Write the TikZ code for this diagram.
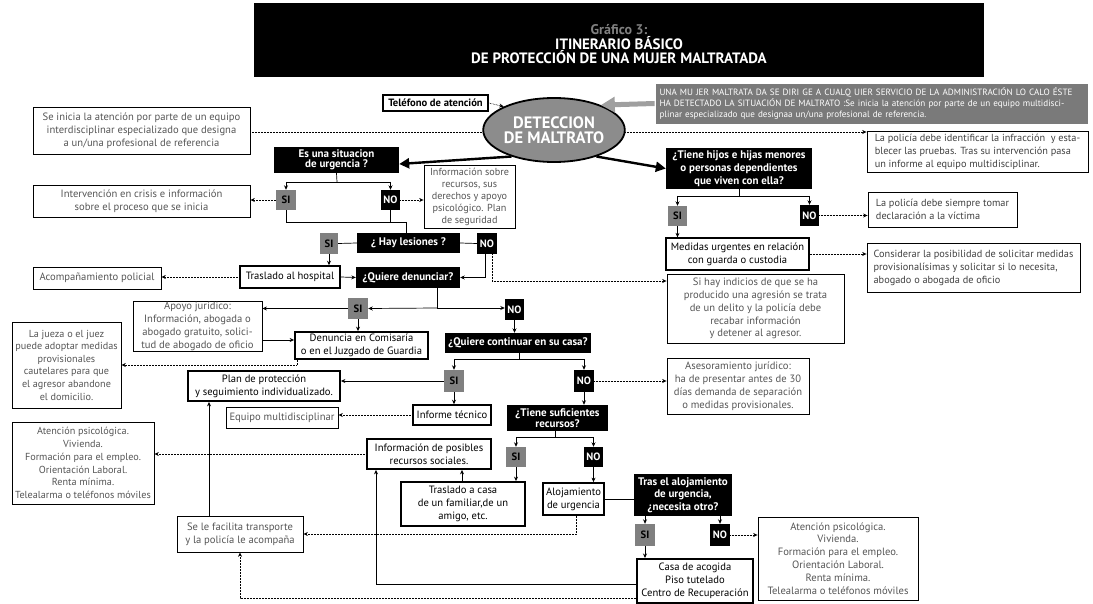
\documentclass[tikz,border=0pt]{standalone}
\usepackage{fontspec}
\setmainfont{PT Sans}
\usetikzlibrary{arrows.meta,calc,shapes.geometric,backgrounds}
\definecolor{tg}{HTML}{555555}
\definecolor{sig}{HTML}{808080}
\definecolor{ellg}{HTML}{8C8C8C}
\definecolor{infog}{HTML}{7A7A7A}
\newcommand\gfont{\fontsize{10.6}{12.9}\selectfont}
\newcommand\qfont{\bfseries\fontsize{11}{10.5}\selectfont}
\newcommand\mybox[7]{\node[#1, minimum width={(#5-#3)*1pt}, minimum height={(#6-#4)*1pt}] (#2) at ({(#3+#5)/2},{(#4+#6)/2}) {#7};}
\begin{document}
\begin{tikzpicture}[x=1pt,y=-1pt,
  gb/.style={draw, line width=0.8pt, inner sep=0pt, align=center, text=tg, font=\gfont},
  gl/.style={gb, align=left, font=\fontsize{10.3}{13}\selectfont},
  tb/.style={draw, line width=1.8pt, inner sep=0pt, align=center, text=black, font=\gfont},
  qb/.style={fill=black, inner sep=0pt, align=center, text=white, font=\qfont},
  sib/.style={fill=sig, inner sep=0pt, text=black, font=\bfseries\gfont},
  nob/.style={fill=black, inner sep=0pt, text=white, font=\bfseries\gfont},
  ar/.style={-{Stealth[length=4.5pt,width=4pt]}, line width=0.7pt},
  dt/.style={dash pattern=on 0.6pt off 0.9pt, line width=0.7pt},
  bigar/.style={line width=2.4pt, -{Triangle[length=10pt,width=10pt]}},
  ln/.style={line width=0.7pt}]
\useasboundingbox (0,0) rectangle (1093,604);
% title
\node[fill=black, minimum width=730pt, minimum height=74pt, inner sep=0pt] (title) at (619,40) {};
\node[anchor=base, text=gray, font=\bfseries\fontsize{14}{14}\selectfont] (t1) at (619,34.5) {Gráfico 3:};
\node[anchor=base, text=white, font=\bfseries\fontsize{15}{15}\selectfont] (t2) at (619,49.5) {ITINERARIO BÁSICO};
\node[anchor=base, text=white, font=\bfseries\fontsize{15}{15}\selectfont] (t3) at (619,63.5) {DE PROTECCIÓN DE UNA MUJER MALTRATADA};
% top
\mybox{tb, line width=1.4pt, font=\bfseries\gfont}{tel}{383}{95}{488}{111}{Teléfono de atención}
\node[ellipse, draw, line width=1.8pt, fill=ellg, minimum width=130pt, minimum height=64pt, inner sep=0pt, text=white, font=\bfseries\fontsize{16.5}{15}\selectfont, align=center] (det) at (554,130) {DETECCION\\DE MALTRATO};
\mybox{fill=infog, draw=white, line width=0.8pt, inner sep=0pt, text=white, align=left, text width=424pt, font=\fontsize{9.1}{11.2}\selectfont}{info}{655}{83}{1088}{124}{UNA MU JER MALTRATA DA SE DIRI GE A CUALQ UIER SERVICIO DE LA ADMINISTRACIÓN LO CALO ÉSTE\\HA DETECTADO LA SITUACIÓN DE MALTRATO :Se inicia la atención por parte de un equipo multidisci-\\plinar especializado que designaa un/una profesional de referencia.}
\mybox{gb}{inicia}{33}{107}{250}{154}{Se inicia la atención por parte de un equipo\\interdisciplinar especializado que designa\\a un/una profesional de referencia}
\mybox{gl, text=black!75}{pol}{867}{131}{1088}{172}{La policía debe identificar la infracción~ y esta-\\blecer las pruebas. Tras su intervención pasa\\un informe al equipo multidisciplinar.}
% left branch
\mybox{qb}{urg}{274}{147}{399}{173}{Es una situacion\\de urgencia ?}
\mybox{sib}{si1}{276}{190}{296}{210}{SI}
\mybox{nob}{no1}{381}{190}{400}{210}{NO}
\mybox{gb}{crisis}{33}{185}{250}{217}{Intervención en crisis e información\\sobre el proceso que se inicia}
\mybox{gb, font=\fontsize{10.2}{12}\selectfont}{infrec}{424}{165}{515}{228}{Información sobre\\recursos, sus\\derechos y apoyo\\psicológico. Plan\\de seguridad}
\mybox{qb}{les}{357}{233}{460}{253}{¿ Hay lesiones ?}
\mybox{sib}{si2}{320}{233}{338}{254}{SI}
\mybox{nob}{no2}{477}{233}{497}{254}{NO}
\mybox{tb, line width=1.5pt}{hosp}{240}{266}{340}{288}{Traslado al hospital}
\mybox{qb}{den}{356}{267}{460}{288}{¿Quiere denunciar?}
\mybox{gb}{acomp}{33}{267}{161}{289}{Acompañamiento policial}
\mybox{sib}{si3}{348}{298}{368}{319}{SI}
\mybox{nob}{no3}{505}{299}{524}{320}{NO}
\mybox{gb}{apoyo}{133}{301}{262}{351}{Apoyo jurídico:\\Información, abogada o\\abogado gratuito, solici-\\tud de abogado de oficio}
\mybox{tb}{denc}{295}{332}{428}{359}{Denuncia en Comisaría\\o en el Juzgado de Guardia}
\mybox{gb, font=\fontsize{10.2}{12.6}\selectfont}{jueza}{12}{322}{121}{408}{La jueza o el juez\\puede adoptar medidas\\provisionales\\cautelares para que\\el agresor abandone\\el domicilio.}
\mybox{qb}{cont}{445}{333}{591}{353}{¿Quiere continuar en su casa?}
\mybox{sib}{si4}{444}{370}{464}{392}{SI}
\mybox{nob}{no4}{574}{370}{594}{392}{NO}
\mybox{tb}{plan}{188}{371}{340}{401}{Plan de protección\\y seguimiento individualizado.}
\mybox{gb}{ases}{667}{358}{809}{414}{Asesoramiento jurídico:\\ha de presentar antes de 30\\días demanda de separación\\o medidas provisionales.}
\mybox{tb, line width=1.5pt}{inf}{413}{405}{491}{425}{Informe técnico}
\mybox{gb}{equipo}{226}{407}{338}{428}{Equipo multidisciplinar}
\mybox{qb, font=\bfseries\fontsize{11}{9.5}\selectfont}{rec}{507}{405}{608}{431}{¿Tiene suficientes\\recursos?}
\mybox{sib}{si5}{506}{447}{526}{467}{SI}
\mybox{nob}{no5}{584}{447}{603}{467}{NO}
\mybox{tb}{casa}{401}{482}{525}{526}{Traslado a casa\\de un familiar,de un\\amigo, etc.}
\mybox{tb}{posib}{367}{439}{491}{469}{Información de posibles\\recursos sociales.}
\mybox{gb, font=\fontsize{10.2}{12.8}\selectfont}{atl}{12}{422}{154}{504}{Atención psicológica.\\Vivienda.\\Formación para el empleo.\\Orientación Laboral.\\Renta mínima.\\Telealarma o teléfonos móviles}
\mybox{tb}{aloj}{543}{483}{604}{515}{Alojamiento\\de urgencia}
\mybox{qb, font=\bfseries\fontsize{11}{12.5}\selectfont}{tras}{634}{474}{732}{516}{Tras el alojamiento\\de urgencia,\\¿necesita otro?}
\mybox{sib}{si6}{635}{524}{655}{546}{SI}
\mybox{nob}{no6}{710}{524}{730}{546}{NO}
\mybox{gb}{atr}{758}{517}{918}{600}{Atención psicológica.\\Vivienda.\\Formación para el empleo.\\Orientación Laboral.\\Renta mínima.\\Telealarma o teléfonos móviles}
\mybox{tb, line width=2pt}{acog}{637}{559}{753}{603}{Casa de acogida\\Piso tutelado\\Centro de Recuperación}
\mybox{gb}{facil}{177}{516}{303}{552}{Se le facilita transporte\\y la policía le acompaña}
% right branch
\mybox{qb, font=\bfseries\fontsize{11}{13}\selectfont}{hijos}{666}{148}{812}{189}{¿Tiene hijos e hijas menores\\o personas dependientes\\que viven con ella?}
\mybox{sib}{si7}{668}{206}{687}{226}{SI}
\mybox{nob}{no7}{800}{205}{819}{226}{NO}
\mybox{gl, text=black!75}{siempre}{868}{192}{1017}{227}{La policía debe siempre tomar\hspace{3pt}\\declaración a la víctima}
\mybox{tb, line width=1.3pt}{med}{666}{238}{809}{270}{Medidas urgentes en relación\\con guarda o custodia}
\mybox{gl, text=black!75}{cons}{867}{243}{1080}{292}{Considerar la posibilidad de solicitar medidas\\provisionalísimas y solicitar si lo necesita,\\abogado o abogada de oficio}
\mybox{gb}{indic}{667}{274}{844}{343}{Si hay indicios de que se ha\\producido una agresión se trata\\de un delito y la policía debe\\recabar información\\y detener al agresor.}
% helper coordinates
\coordinate (c132) at (0,132);
\coordinate (c281) at (0,281);
\coordinate (c340) at (0,340);
\coordinate (c462) at (462,0);
\coordinate (c209) at (209,0);
\coordinate (j1) at (406,222);
\coordinate (u1) at (337,182);
\coordinate (d1) at (437,308);
\coordinate (k1) at (519,359);
\coordinate (r1) at (555,437);
\coordinate (h1) at (739,196);
\coordinate (c584) at (376,584);
\coordinate (c598) at (240,598);
% connectors
\begin{scope}[on background layer]
\draw[dt,ar] (inicia.east |- c132) -- (pol.west |- c132);
\end{scope}
\draw[dt,ar] (tel.east) -- (det.155);
\draw[line width=5pt, draw=gray!75, -{Triangle[length=14pt,width=15pt]}] (info.west) -- (det.28);
\draw[bigar] (det.212) -- ([yshift=-4pt]urg.east);
\draw[bigar] (det.-32) -- (hijos.west);
% urgencia
\draw[ln] (urg.south) -- (u1);
\draw[ln] (u1 -| si1) -- (u1 -| no1);
\draw[ar] (u1 -| si1) -- (si1.north);
\draw[ar] (u1 -| no1) -- (no1.north);
\draw[dt,ar] (si1.west) -- (si1.west -| crisis.east);
\draw[dt,ar] (no1.east) -- (no1.east -| infrec.west);
\draw[ln] (si1.south) |- (j1);
\draw[ln] (no1.south) -- (no1.south |- j1);
\draw[ln] (j1) -- (j1 |- les.north);
% lesiones
\draw[ln] (si2.east) -- (les.west);
\draw[ln] (les.east) -- (no2.west);
\draw[ar] (si2.south) -- (si2.south |- hosp.north);
\draw[ar] (hosp.east) -- (den.west);
\draw[dt,ar] (hosp.west) -- (hosp.west -| acomp.east);
\draw[ar] ([xshift=-2pt]no2.south) |- (den.east);
\draw[dt,ar] ([xshift=5pt]no2.south) |- (indic.west |- c281);
% denunciar
\draw[ln] (d1 |- den.south) -- (d1);
\draw[ar] (d1) -- (si3.east);
\draw[ar] (d1) -- (d1 -| no3.west);
\draw[ar] (si3.west) -- (si3.west -| apoyo.east);
\draw[ar] (si3.south) -- (si3.south |- denc.north);
\draw[ar] (apoyo.east |- c340) -- (denc.west |- c340);
\draw[dt,ar] ([xshift=3pt]denc.south west) |- (jueza.east);
\draw[ar] (no3.south) -- (no3.south |- cont.north);
% continuar
\draw[ln] (k1 |- cont.south) -- (k1);
\draw[ln] (k1 -| si4) -- (k1 -| no4);
\draw[ar] (k1 -| si4) -- (si4.north);
\draw[ar] (k1 -| no4) -- (no4.north);
\draw[ar] (si4.west) -- (si4.west -| plan.east);
\draw[dt,ar] (no4.east) -- (no4.east -| ases.west);
\draw[ar] (si4.south) -- (si4.south |- inf.north);
\draw[dt,ar] (inf.west) -- (inf.west -| equipo.east);
\draw[ar] (no4.south) -- (no4.south |- rec.north);
% recursos
\draw[ln] (r1 |- rec.south) -- (r1);
\draw[ln] (r1 -| si5) -- (r1 -| no5);
\draw[ar] (r1 -| si5) -- (si5.north);
\draw[ar] (r1 -| no5) -- (no5.north);
\draw[ar] (si5.south) -- (si5.south |- casa.north);
\draw[ar] (casa.north -| c462) -- (posib.south -| c462);
\draw[dt,ar] (posib.west) -- (posib.west -| atl.east);
\draw[ar] (no5.south) -- (no5.south |- aloj.north);
\draw[ln] (aloj.east) -- (aloj.east -| tras.west);
\draw[ar] (si6.north |- tras.south) -- (si6.north);
\draw[ar] (no6.north |- tras.south) -- (no6.north);
\draw[dt,ar] (no6.east) -- (no6.east -| atr.west);
\draw[ar] (si6.south) -- (si6.south |- acog.north);
\draw[ar] (acog.west |- c584) -| (c584 |- posib.south);
\draw[dt,ar] (acog.west |- c598) -| (facil.south);
\draw[dt,ar] ([xshift=3pt]aloj.south) |- (facil.east);
\draw[ar] (facil.north -| c209) -- (plan.south -| c209);
% hijos
\draw[ln] (hijos.south) -- (h1);
\draw[ln] (h1 -| si7) -- (h1 -| no7);
\draw[ar] (h1 -| si7) -- (si7.north);
\draw[ar] (h1 -| no7) -- (no7.north);
\draw[dt,ar] (no7.east) -- (no7.east -| siempre.west);
\draw[ar] (si7.south) -- (si7.south |- med.north);
\draw[dt,ar] (med.east) -- (med.east -| cons.west);
\end{tikzpicture}
\end{document}
